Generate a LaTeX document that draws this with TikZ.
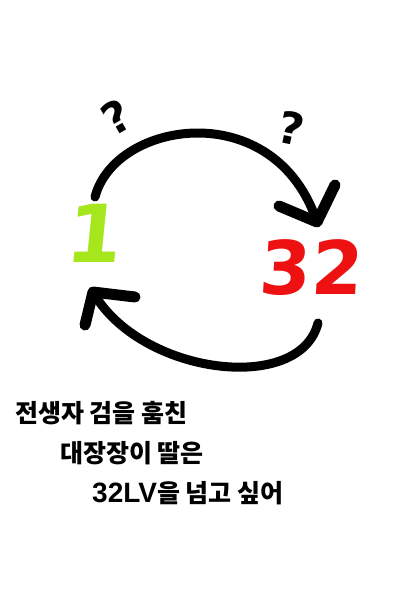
\documentclass[tikz,border=0pt]{standalone}
\usepackage{fontspec}
\newfontfamily\kr{Noto Sans CJK KR}
\newfontfamily\numfont{DejaVu Sans}
\newfontfamily\latn{Liberation Sans}
\definecolor{lime}{HTML}{A6E61C}
\definecolor{redn}{HTML}{EE1111}
\tikzset{
  brush/.style={line width=9pt, line cap=round, line join=round, black},
  headstroke/.style={line width=11pt, line cap=round, line join=round, black},
  qmark/.style={font=\numfont\bfseries\fontsize{44}{44}\selectfont, inner sep=0pt},
  krline/.style={font=\kr\bfseries\fontsize{25}{25}\selectfont, anchor=west, inner sep=0pt},
}
\begin{document}
\begin{tikzpicture}[x=1pt,y=-1pt]
\useasboundingbox[fill=white] (0,0) rectangle (400,600);
% numbers
\node[font=\numfont\bfseries\fontsize{80}{80}\selectfont, text=lime, inner sep=0pt, xslant=0.1] (one) at (95,233) {1};
\node[font=\numfont\bfseries\fontsize{74}{74}\selectfont, text=redn, inner sep=0pt, xslant=0.06] (two) at (312,268) {32};
% question marks
\node[qmark, rotate=30] (q1) at (116,117) {?};
\node[qmark, rotate=-12] (q2) at (291,128) {?};
% arc endpoints
\coordinate (a1) at (95,197);
\coordinate (a2) at (317,222);
\coordinate (b1) at (318,323);
\coordinate (b2) at (93,292);
% top arc
\draw[brush] (a1) .. controls (115,120) and (275,95) .. (a2);
\draw[headstroke] (279,206) -- (a2) -- (335,185);
% bottom arc
\draw[brush] (b1) .. controls (300,395) and (140,375) .. (b2);
\draw[headstroke] (85,325) -- (b2) -- (135,297);
% text
\node[krline] (t1) at (15,413) {전생자 검을 훔친};
\node[krline] (t2) at (60,453) {대장장이 딸은};
\node[krline] (t3) at (92,493) {{\latn\bfseries\fontsize{28}{28}\selectfont 32LV}을 넘고 싶어};
\end{tikzpicture}
\end{document}
